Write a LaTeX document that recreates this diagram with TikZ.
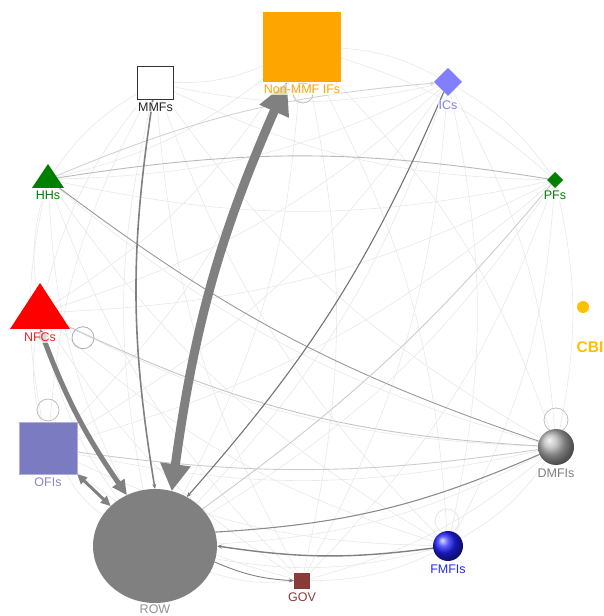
\documentclass[tikz,border=0pt]{standalone}
\usepackage{fontspec}
\setmainfont{Liberation Sans}
\usetikzlibrary{shapes.geometric,arrows.meta,positioning,backgrounds}
\definecolor{ifsorange}{HTML}{FFA500}
\definecolor{icsblue}{HTML}{8080FF}
\definecolor{hhsgreen}{HTML}{008000}
\definecolor{cbigold}{HTML}{FFC000}
\definecolor{ofisblue}{HTML}{7B7BC2}
\definecolor{govred}{HTML}{8B3A3A}
\definecolor{rowgray}{HTML}{808080}
\definecolor{fmfisblue}{HTML}{2020FF}

\begin{document}
\begin{tikzpicture}[x=1pt, y=1pt,
  sector/.style={inner sep=0pt, outer sep=0pt},
  tri/.style={sector, isosceles triangle, isosceles triangle stretches,
    shape border rotate=90, anchor=south},
  lbl/.style={font=\fontsize{12.5}{14}\selectfont, inner sep=1pt,
    fill=white, fill opacity=0.7, text opacity=1},
  mesh/.style={draw=black!9, line width=0.6pt},
  link/.style={draw=rowgray, line width=0.9pt},
  tip/.style={-{Stealth[length=5pt,width=4pt]}},
  selfloop/.style={draw=gray!50, line width=0.8pt}]
\useasboundingbox (0,0) rectangle (603,616);

% sectors round the circle
\node [sector, fill=ifsorange, minimum width=78pt, minimum height=70pt] (nonmmf) at (302,569) {};
\node [sector, fill=white, draw=black!80, line width=1pt, minimum width=36pt, minimum height=33pt] (mmfs) at (155.5,533) {};
\node [sector, diamond, aspect=1, fill=icsblue, minimum size=28pt] (ics) at (448,534) {};
\node [tri, fill=hhsgreen, minimum width=32pt, minimum height=24pt] (hhs) at (48,428) {};
\node [sector, diamond, aspect=1, fill=hhsgreen, minimum size=16pt] (pfs) at (555,436) {};
\node [tri, fill=red, minimum width=60pt, minimum height=46pt] (nfcs) at (40,287) {};
\node [sector, circle, fill=cbigold, minimum size=12pt] (cbi) at (583,309) {};
\node [sector, fill=ofisblue, draw=ofisblue!60, minimum width=58pt, minimum height=52pt] (ofis) at (48,168) {};
\node [sector, circle, shading=ball, ball color=gray!60, minimum size=36pt] (dmfis) at (556,169) {};
\node [sector, circle, shading=ball, ball color=fmfisblue, minimum size=30pt] (fmfis) at (448,70) {};
\node [sector, fill=govred, minimum size=16pt] (gov) at (302,35) {};
\node [sector, ellipse, fill=rowgray, minimum width=124pt, minimum height=114pt] (row) at (155,70) {};

% labels
\node [lbl, text=ifsorange, below=2pt of nonmmf] (l_nonmmf) {Non-MMF IFs};
\node [lbl, text=black!85, below=2pt of mmfs] (l_mmfs) {MMFs};
\node [lbl, text=icsblue, below=4pt of ics] (l_ics) {ICs};
\node [lbl, text=hhsgreen, below=2pt of hhs] (l_hhs) {HHs};
\node [lbl, text=hhsgreen, below=2pt of pfs] (l_pfs) {PFs};
\node [lbl, text=red!85!pink, below=3pt of nfcs] (l_nfcs) {NFCs};
\node [lbl, text=cbigold, font=\fontsize{15.5}{17}\selectfont\bfseries, below=27pt of cbi, xshift=7pt] (l_cbi) {CBI};
\node [lbl, text=ofisblue!90!white, below=3pt of ofis] (l_ofis) {OFIs};
\node [lbl, text=gray, below=3pt of dmfis] (l_dmfis) {DMFIs};
\node [lbl, text=blue!85!white, below=3pt of fmfis] (l_fmfis) {FMFIs};
\node [lbl, text=govred, below=3pt of gov] (l_gov) {GOV};
\node [lbl, text=gray!85, below=1pt of row] (l_row) {ROW};

\begin{scope}[on background layer]
% faint flows between every pair of sectors
\foreach \a [count=\i] in {nonmmf,ics,pfs,dmfis,fmfis,gov,row,ofis,nfcs,hhs,mmfs}
  \foreach \b [count=\j] in {nonmmf,ics,pfs,dmfis,fmfis,gov,row,ofis,nfcs,hhs,mmfs}
    {\ifnum\i<\j \draw [mesh] (\a) to [bend left=12] (\b); \fi}

% self loops
\draw [selfloop] ([shift={(1,-11)}]nonmmf.south) circle [radius=10pt];
\draw [selfloop, draw=gray!65] ([shift={(43,-25)}]nfcs.center) circle [radius=11pt];
\draw [selfloop] ([shift={(0,12)}]ofis.north) circle [radius=11pt];
\draw [selfloop] ([shift={(0,9)}]dmfis.north) circle [radius=12pt];
\draw [selfloop, draw=black!10] ([shift={(-1,10)}]fmfis.north) circle [radius=12pt];

% main flows
\path [link]
(hhs) edge [bend left=9, draw=gray!55] (pfs)
      edge [bend left=9, draw=gray!35, tip] (ics)
      edge [bend right=9, draw=gray!80] (dmfis)
(nfcs) edge [bend right=11, draw=gray!45] (dmfis)
(ofis) edge [bend right=8, draw=gray!40] (dmfis)
(pfs) edge [bend left=7, draw=gray!40] (row.38)
(ics) edge [bend left=9, draw=black!55, line width=1.1pt, tip] (row.57)
(mmfs) edge [bend right=9, line width=1.6pt, tip] (row.north)
(row.13) edge [bend right=10, draw=gray!90, line width=1.1pt] (dmfis)
(row.-15) edge [bend right=10, tip] (gov)
(fmfis) edge [bend left=8, line width=1.4pt, tip] (row.east);

% heavy flows
\draw [rowgray, line width=9pt, {Triangle[length=27pt,width=29pt]}-{Triangle[length=32pt,width=30pt]}]
  (row.73) to [bend left=8] ([xshift=-15pt]nonmmf.south);
\draw [rowgray, line width=5pt, {Triangle[length=10pt,width=10pt]}-{Triangle[length=15pt,width=14pt]}]
  (nfcs.south) to [bend right=7] (row.119);
\draw [rowgray, line width=3pt, {Triangle[length=10pt,width=9pt]}-{Triangle[length=10pt,width=9pt]}]
  (ofis.south east) to (row.138);
\end{scope}
\end{tikzpicture}
\end{document}
